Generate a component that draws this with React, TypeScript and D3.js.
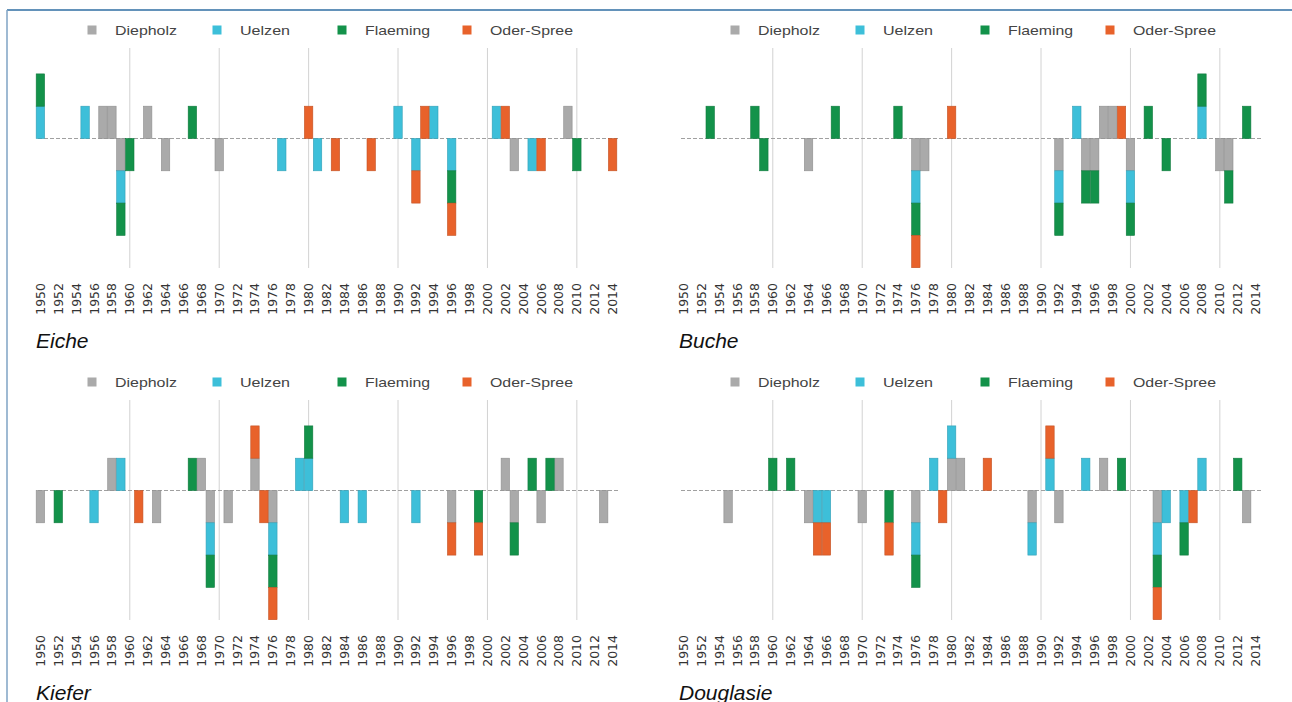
import React, { useEffect, useRef } from 'react';
import * as d3 from 'd3';

// categories
const YEARS = d3.range(1950, 2015);
const TICK_LABELS = [
  '1950', '1952', '1954', '1956', '1958', '1960', '1962', '1964', '1966', '1968', '1970',
  '1972', '1974', '1976', '1978', '1980', '1982', '1984', '1986', '1988', '1990', '1992',
  '1994', '1996', '1998', '2000', '2002', '2004', '2006', '2008', '2010', '2012', '2014',
];
const GRID_YEARS = [1960, 1970, 1980, 1990, 2000, 2010];

const SERIES = ['Diepholz', 'Uelzen', 'Flaeming', 'Oder-Spree'];
const COLORS = ['#aaaaaa', '#3dbfd9', '#13924a', '#e8622b'];

// [year, value] per region
const eicheDiepholz = [[1957, 1], [1958, 1], [1959, -1], [1962, 1], [1964, -1], [1970, -1], [2003, -1], [2009, 1]];
const eicheUelzen = [[1950, 1], [1955, 1], [1959, -1], [1977, -1], [1981, -1], [1990, 1], [1992, -1], [1994, 1], [1996, -1], [2001, 1], [2005, -1]];
const eicheFlaeming = [[1950, 1], [1959, -1], [1960, -1], [1967, 1], [1996, -1], [2010, -1]];
const eicheOderSpree = [[1980, 1], [1983, -1], [1987, -1], [1992, -1], [1993, 1], [1996, -1], [2002, 1], [2006, -1], [2014, -1]];

const bucheDiepholz = [[1964, -1], [1976, -1], [1977, -1], [1992, -1], [1995, -1], [1996, -1], [1997, 1], [1998, 1], [2000, -1], [2010, -1], [2011, -1]];
const bucheUelzen = [[1976, -1], [1992, -1], [1994, 1], [2000, -1], [2008, 1]];
const bucheFlaeming = [[1953, 1], [1958, 1], [1959, -1], [1967, 1], [1974, 1], [1976, -1], [1992, -1], [1995, -1], [1996, -1], [2000, -1], [2002, 1], [2004, -1], [2008, 1], [2011, -1], [2013, 1]];
const bucheOderSpree = [[1976, -1], [1980, 1], [1999, 1]];

const kieferDiepholz = [[1950, -1], [1958, 1], [1963, -1], [1968, 1], [1969, -1], [1971, -1], [1974, 1], [1976, -1], [1996, -1], [2002, 1], [2003, -1], [2006, -1], [2008, 1], [2013, -1]];
const kieferUelzen = [[1956, -1], [1959, 1], [1969, -1], [1976, -1], [1979, 1], [1980, 1], [1984, -1], [1986, -1], [1992, -1]];
const kieferFlaeming = [[1952, -1], [1967, 1], [1969, -1], [1976, -1], [1980, 1], [1999, -1], [2003, -1], [2005, 1], [2007, 1]];
const kieferOderSpree = [[1961, -1], [1974, 1], [1975, -1], [1976, -1], [1996, -1], [1999, -1]];

const douglasieDiepholz = [[1955, -1], [1964, -1], [1970, -1], [1976, -1], [1980, 1], [1981, 1], [1989, -1], [1992, -1], [1997, 1], [2003, -1], [2013, -1]];
const douglasieUelzen = [[1965, -1], [1966, -1], [1976, -1], [1978, 1], [1980, 1], [1989, -1], [1991, 1], [1995, 1], [2003, -1], [2004, -1], [2006, -1], [2008, 1]];
const douglasieFlaeming = [[1960, 1], [1962, 1], [1973, -1], [1976, -1], [1999, 1], [2003, -1], [2006, -1], [2012, 1]];
const douglasieOderSpree = [[1965, -1], [1966, -1], [1973, -1], [1979, -1], [1984, 1], [1991, 1], [2003, -1], [2007, -1]];

const PANELS = [
  { title: 'Eiche', col: 0, row: 0, series: [eicheDiepholz, eicheUelzen, eicheFlaeming, eicheOderSpree] },
  { title: 'Buche', col: 1, row: 0, series: [bucheDiepholz, bucheUelzen, bucheFlaeming, bucheOderSpree] },
  { title: 'Kiefer', col: 0, row: 1, series: [kieferDiepholz, kieferUelzen, kieferFlaeming, kieferOderSpree] },
  { title: 'Douglasie', col: 1, row: 1, series: [douglasieDiepholz, douglasieUelzen, douglasieFlaeming, douglasieOderSpree] },
];

const App: React.FC = () => {
  const svgRef = useRef<SVGSVGElement>(null);

  useEffect(() => {
    if (!svgRef.current) return;
    document.body.style.margin = '0';
    const svg = d3.select(svgRef.current);
    svg.selectAll('*').remove();

    const width = 1292;
    const height = 702;
    svg.attr('width', width).attr('height', height).attr('viewBox', `0 0 ${width} ${height}`);

    svg.append('rect').attr('width', width).attr('height', height).attr('fill', '#fff');

    // frame
    svg.append('line').attr('x1', 7).attr('x2', width).attr('y1', 10).attr('y2', 10)
      .attr('stroke', '#2f6ea3').attr('stroke-width', 1.5);
    svg.append('line').attr('x1', 7).attr('x2', 7).attr('y1', 10).attr('y2', height)
      .attr('stroke', '#7fa3c5').attr('stroke-width', 1.5);

    const colLeft = [36, 679];
    const rowTop = [0, 352];
    const plotW = 581;

    PANELS.forEach(panel => {
      const ox = colLeft[panel.col];
      const oy = rowTop[panel.row];
      const g = svg.append('g').attr('transform', `translate(${ox},${oy})`);

      const x = d3.scaleBand<number>().domain(YEARS).range([0, plotW]).paddingInner(0.06).paddingOuter(0.02);
      const y = d3.scaleLinear().domain([-4, 2]).range([267.7, 73.9]);
      const cx = (yr: number) => x(yr)! + x.bandwidth() / 2;

      // table: one row per year
      const table = YEARS.map(yr => {
        const row: Record<string, number> = { year: yr };
        SERIES.forEach((s, i) => {
          const hit = panel.series[i].find(d => d[0] === yr);
          row[s] = hit ? hit[1] : 0;
        });
        return row;
      });

      const stacked = d3.stack<Record<string, number>>()
        .keys(SERIES)
        .offset(d3.stackOffsetDiverging)(table);

      // grid
      g.append('g').selectAll('line').data(GRID_YEARS).enter().append('line')
        .attr('x1', d => cx(d)).attr('x2', d => cx(d))
        .attr('y1', 48).attr('y2', 268)
        .attr('stroke', '#d2d2d2').attr('stroke-width', 1);

      // zero line
      g.append('line')
        .attr('x1', 2).attr('x2', plotW + 2)
        .attr('y1', y(0)).attr('y2', y(0))
        .attr('stroke', '#a0a0a0').attr('stroke-width', 1)
        .attr('stroke-dasharray', '4,2');

      // bars
      stacked.forEach((layer, i) => {
        const col = COLORS[i];
        g.append('g').selectAll('rect')
          .data(layer.filter(d => d[1] - d[0] !== 0))
          .enter().append('rect')
          .attr('x', d => x(d.data.year)!)
          .attr('width', x.bandwidth())
          .attr('y', d => y(Math.max(d[0], d[1])))
          .attr('height', d => Math.abs(y(d[0]) - y(d[1])))
          .attr('fill', col)
          .attr('stroke', d3.color(col)!.darker(0.5).formatHex())
          .attr('stroke-width', 0.6);
      });

      // tick labels
      g.append('g').selectAll('text').data(TICK_LABELS).enter().append('text')
        .attr('transform', d => `translate(${cx(+d)},283) rotate(-90)`)
        .attr('dy', '0.36em')
        .attr('text-anchor', 'end')
        .attr('font-family', 'DejaVu Sans, Arial, sans-serif')
        .attr('font-size', 12.5)
        .attr('fill', '#333')
        .text(d => d);

      // legend
      const leg = g.append('g').attr('transform', 'translate(0,30)');
      SERIES.forEach((s, i) => {
        const lx = 56 + i * 125;
        leg.append('rect').attr('x', lx - 4.5).attr('y', -4.5).attr('width', 9).attr('height', 9)
          .attr('fill', COLORS[i]);
        leg.append('text').attr('x', lx + 23).attr('y', 0).attr('dy', '0.35em')
          .attr('font-family', 'Liberation Sans, Arial, sans-serif')
          .attr('font-size', 13)
          .attr('fill', '#444')
          .attr('textLength', [62, 50, 65, 83][i])
          .attr('lengthAdjust', 'spacingAndGlyphs')
          .text(s);
      });

      // title
      g.append('text').attr('x', 0).attr('y', 348)
        .attr('font-family', 'Liberation Sans, Arial, sans-serif')
        .attr('font-style', 'italic')
        .attr('font-size', 21)
        .attr('fill', '#111')
        .text(panel.title);
    });
  }, []);

  return (
    <div style={{ width: 1292, height: 702 }}>
      <svg ref={svgRef} style={{ display: 'block' }}></svg>
    </div>
  );
};

export default App;
